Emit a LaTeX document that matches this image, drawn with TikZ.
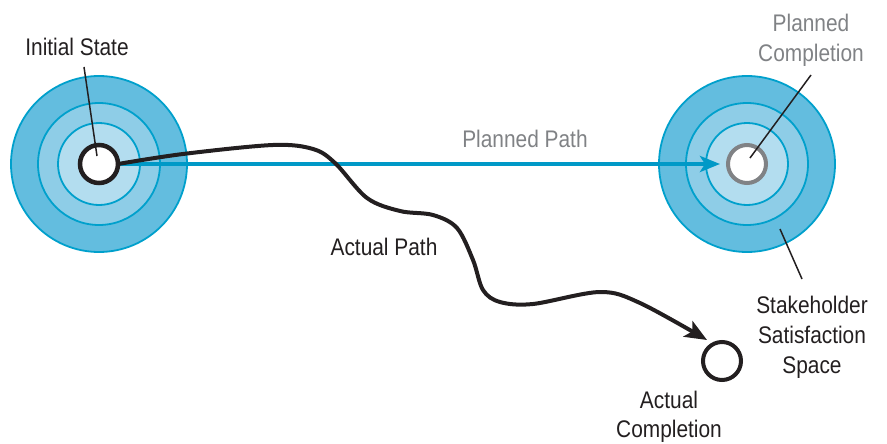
\documentclass[tikz,border=0pt]{standalone}
\usepackage{fontspec}
\setmainfont{Liberation Sans}[FakeStretch=0.87]
\usetikzlibrary{arrows.meta}
\definecolor{ringA}{HTML}{63BDDF}
\definecolor{ringB}{HTML}{8ECDE7}
\definecolor{ringC}{HTML}{B3DDEF}
\definecolor{ringEdge}{HTML}{00A0CC}
\definecolor{pathBlue}{HTML}{0099C7}
\definecolor{inkBlack}{HTML}{231F20}
\definecolor{inkGray}{HTML}{808285}
\begin{document}
\begin{tikzpicture}[x=1pt,y=-1pt,
  ring/.style={circle,draw=ringEdge,line width=1.8pt,inner sep=0pt,outer sep=0pt},
  core/.style={circle,fill=white,inner sep=0pt,outer sep=0pt,minimum size=38pt},
  lbl/.style={font=\fontsize{24}{30}\selectfont,text=inkBlack,anchor=base,inner sep=0pt},
  glbl/.style={lbl,text=inkGray},
  leader/.style={draw=inkBlack,line width=1.5pt}
]
\useasboundingbox (0,0) rectangle (887,444);
% left target
\node[ring,fill=ringA,minimum size=176pt] (la) at (99,164) {};
\node[ring,fill=ringB,minimum size=122pt] (lb) at (99,164) {};
\node[ring,fill=ringC,minimum size=82pt]  (lc) at (99,164) {};
% right target
\node[ring,fill=ringA,minimum size=176pt] (ra) at (747,164) {};
\node[ring,fill=ringB,minimum size=122pt] (rb) at (747,164) {};
\node[ring,fill=ringC,minimum size=82pt]  (rc) at (747,164) {};
% cores
\node[core] (ini) at (99,164) {};
\node[core] (plan) at (747,164) {};
\node[circle,draw=inkBlack,line width=4pt,inner sep=0pt,outer sep=0pt,minimum size=38pt] (act) at (722,361) {};
% planned path
\draw[pathBlue,line width=4pt,-{Stealth[length=20pt,width=16pt,inset=5pt]},shorten >=8pt] (ini.east) -- (plan.west);
% actual path
\coordinate (tip) at (707,340);
\draw[inkBlack,line width=4pt,line cap=round,-{Stealth[length=22pt,width=18pt,inset=5pt]}]
  plot[smooth,tension=0.55] coordinates {(ini.east) (183,154) (273,145) (313,149) (335,163) (367,198) (400,211) (433,215) (457,228) (473,260) (483,290) (500,302) (533,304) (600,292) (640,303) (tip)};
% core rings drawn on top
\node[circle,draw=inkBlack,fill=white,line width=4.5pt,inner sep=0pt,outer sep=0pt,minimum size=38pt] at (ini) {};
\node[circle,draw=inkGray,fill=white,line width=4pt,inner sep=0pt,outer sep=0pt,minimum size=38pt] at (plan) {};
% labels
\node[lbl] (tInit) at (77,56) {Initial State};
\node[glbl] (tPlan1) at (811,32) {Planned};
\node[glbl] (tPlan2) at (811,62) {Completion};
\node[glbl] (tPP) at (525,147) {Planned Path};
\node[lbl] (tAP) at (384,255) {Actual Path};
\node[lbl] (tS1) at (812,313) {Stakeholder};
\node[lbl] (tS2) at (812,343) {Satisfaction};
\node[lbl] (tS3) at (812,373) {Space};
\node[lbl] (tA1) at (669,408) {Actual};
\node[lbl] (tA2) at (669,437) {Completion};
% leaders
\coordinate (l1a) at (84,67);   \coordinate (l1b) at (97,156);
\coordinate (l2a) at (811,75);  \coordinate (l2b) at (750,158);
\coordinate (l3a) at (780,229); \coordinate (l3b) at (802,279);
\draw[leader] (l1a) -- (l1b);
\draw[leader] (l2a) -- (l2b);
\draw[leader] (l3a) -- (l3b);
\end{tikzpicture}
\end{document}
